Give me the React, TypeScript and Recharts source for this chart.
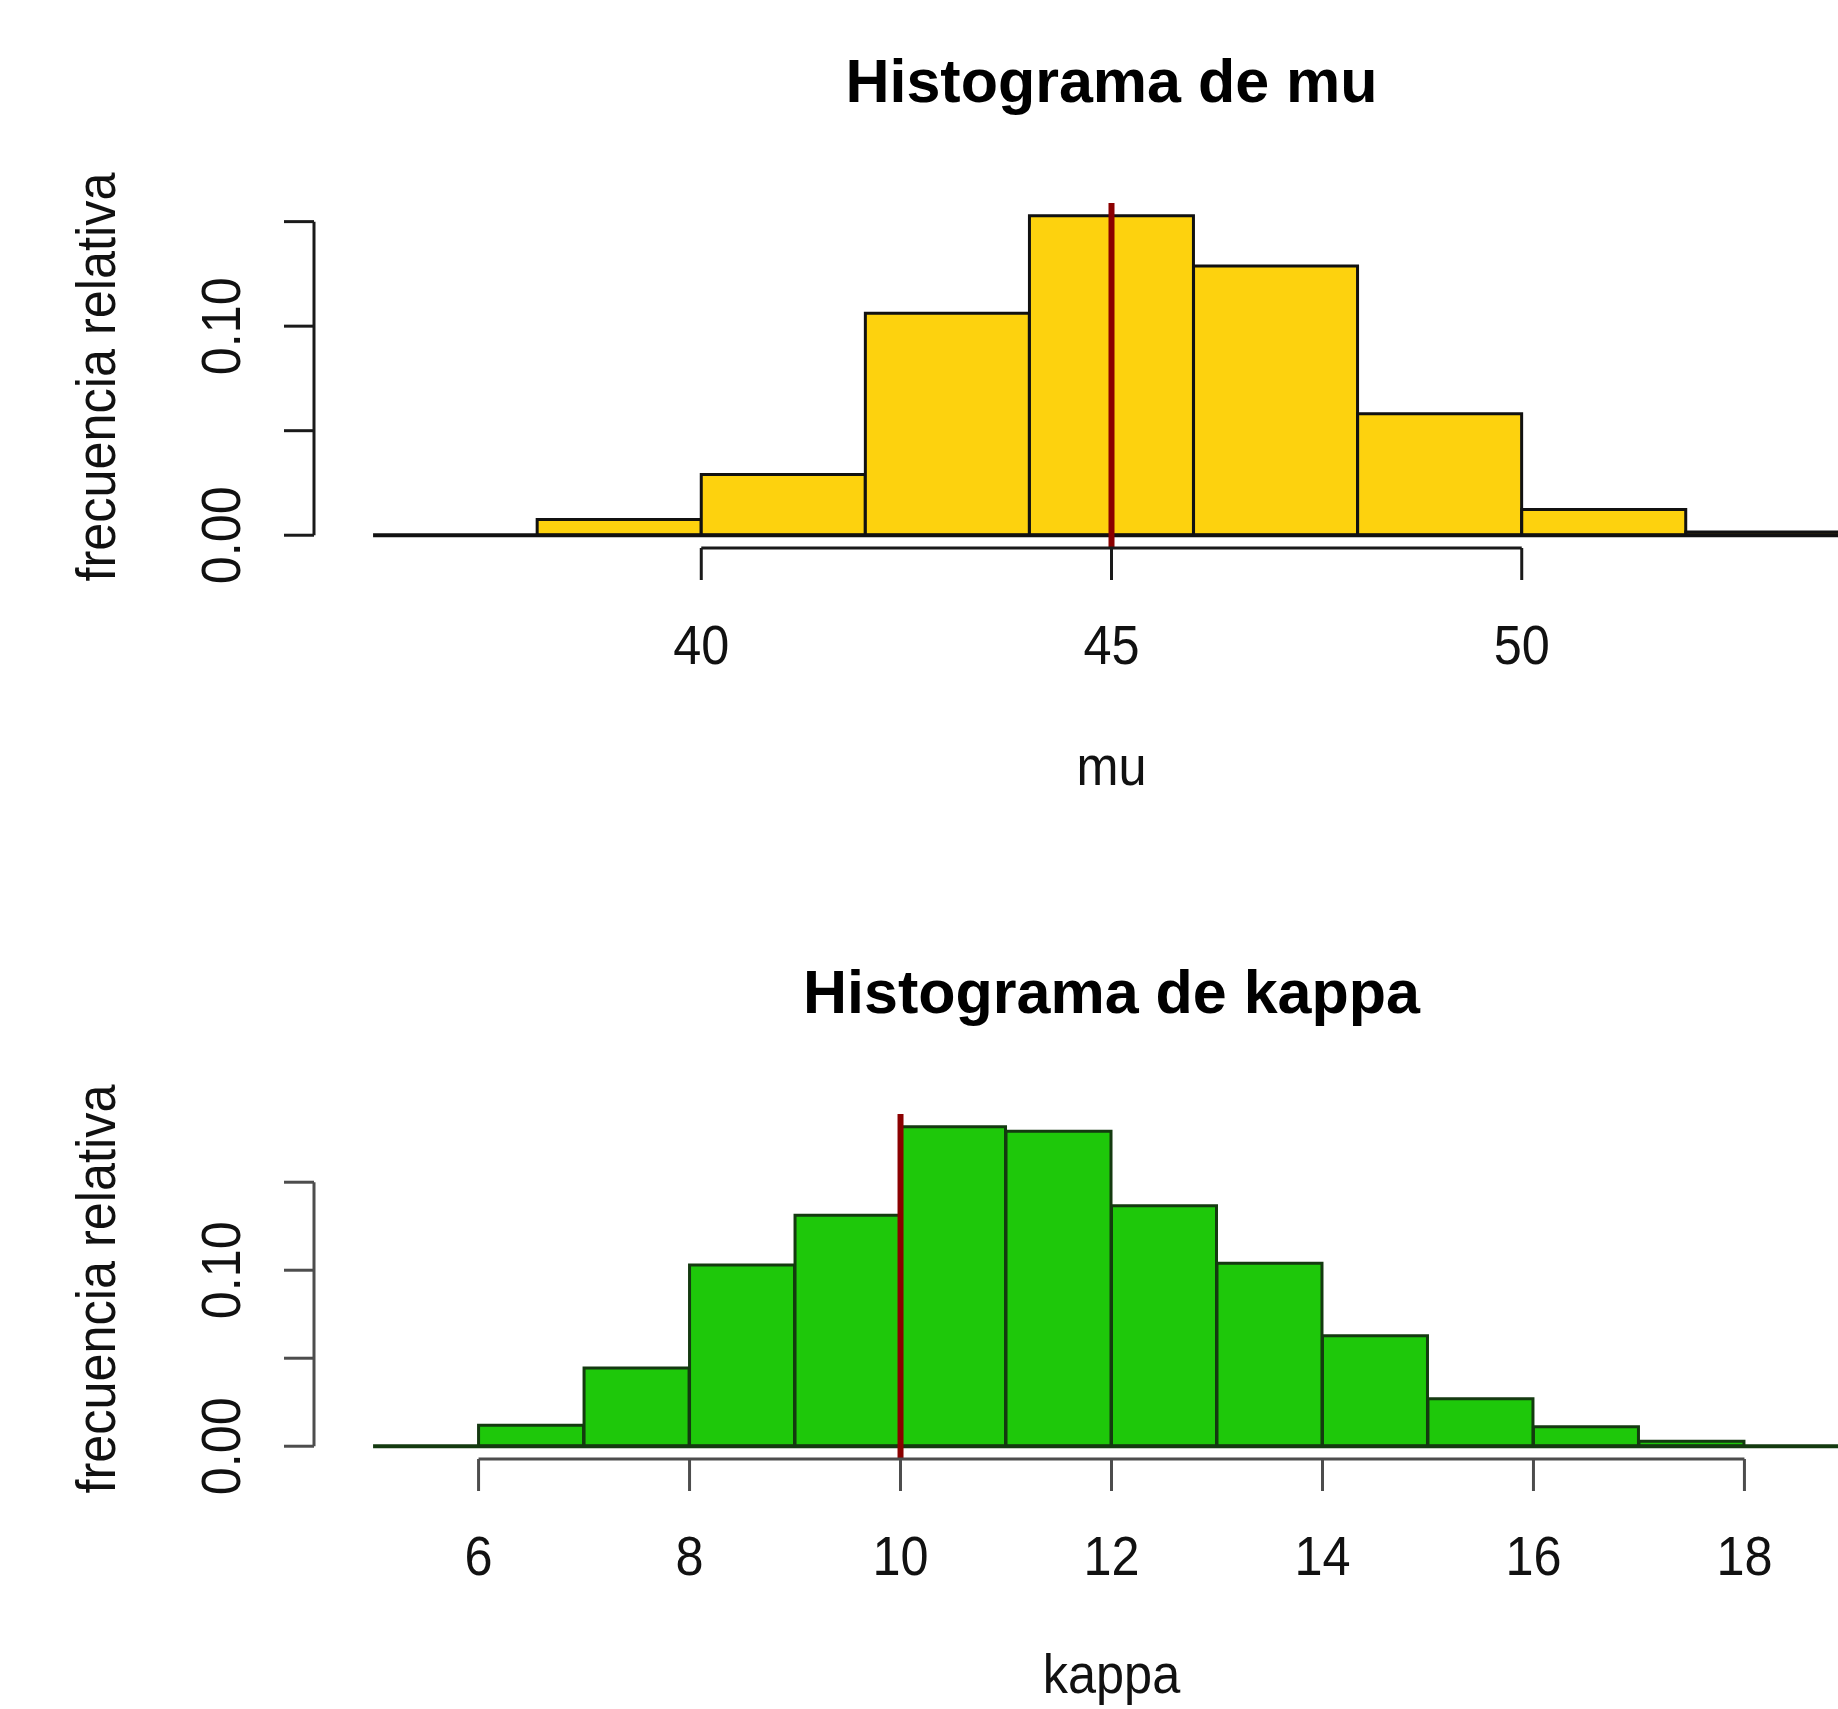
import React from 'react';
import { ComposedChart, Bar, XAxis, YAxis, ReferenceLine } from 'recharts';

// ---- data: histogram of mu ----
const muBreaks = [36, 38, 40, 42, 44, 46, 48, 50, 52, 54];
const muDensity = [0, 0.0075, 0.029, 0.1062, 0.1528, 0.1288, 0.0581, 0.0123, 0.0015];
const muTicks = [40, 45, 50];
const muMean = 45;

// ---- data: histogram of kappa ----
const kappaBreaks = [5, 6, 7, 8, 9, 10, 11, 12, 13, 14, 15, 16, 17, 18, 19];
const kappaDensity = [0, 0.0119, 0.0444, 0.103, 0.1313, 0.1815, 0.179, 0.1366, 0.104, 0.0628, 0.027, 0.011, 0.0028, 0];
const kappaTicks = [6, 8, 10, 12, 14, 16, 18];
const kappaMean = 10;

// ---- shared y axis ----
const yTicks = [0, 0.05, 0.1, 0.15];
const yTickLabels = ['0.00', '', '0.10', ''];

const FONT = "'Liberation Sans', Arial, Helvetica, sans-serif";
const CHART_W = 1930;
const CHART_H = 800;
const MARGIN = { top: 203, right: 21, bottom: 132, left: 214 };

type HistProps = {
  breaks: number[];
  density: number[];
  ticks: number[];
  mean: number;
  fill: string;
  axisColor: string;
  barStroke: string;
};

const XTick = (props: any) => {
  const { x, y, payload } = props;
  return (
    <text
      transform={`translate(${x} ${y + 84}) scale(0.9 1)`}
      textAnchor="middle"
      fontFamily={FONT}
      fontSize={56}
      fill="#111"
    >
      {String(payload.value)}
    </text>
  );
};

const YTick = (props: any) => {
  const { x, y, index } = props;
  const label = yTickLabels[index] ?? '';
  if (!label) return <g />;
  return (
    <text
      transform={`translate(${x - 44} ${y}) rotate(-90) scale(0.9 1)`}
      textAnchor="middle"
      fontFamily={FONT}
      fontSize={56}
      fill="#111"
    >
      {label}
    </text>
  );
};

const Histogram = ({ breaks, density, ticks, mean, fill, axisColor, barStroke }: HistProps) => {
  const data = density.map((d, i) => ({ mid: (breaks[i] + breaks[i + 1]) / 2, density: d }));
  const lo = breaks[0];
  const hi = breaks[breaks.length - 1];
  const xPad = 0.04 * (hi - lo);
  const xDomain: [number, number] = [lo - xPad, hi + xPad];
  const ymax = Math.max(...density);
  const yDomain: [number, number] = [-0.04 * ymax, 1.04 * ymax];
  return (
    <ComposedChart
      width={CHART_W}
      height={CHART_H}
      data={data}
      margin={MARGIN}
      barCategoryGap={0}
      barGap={0}
    >
      <XAxis
        type="number"
        dataKey="mid"
        domain={xDomain}
        allowDataOverflow
        ticks={ticks}
        interval={0}
        axisLine={false}
        tickLine={{ stroke: axisColor, strokeWidth: 3 }}
        tickSize={32}
        tickMargin={0}
        height={120}
        tick={(p: any) => <XTick {...p} />}
      />
      <YAxis
        type="number"
        domain={yDomain}
        allowDataOverflow
        ticks={yTicks}
        interval={0}
        axisLine={false}
        tickLine={{ stroke: axisColor, strokeWidth: 3 }}
        tickSize={30}
        tickMargin={0}
        width={100}
        tick={(p: any) => <YTick {...p} />}
      />
      <Bar dataKey="density" fill={fill} stroke={barStroke} strokeWidth={3} isAnimationActive={false} />
      <ReferenceLine
        segment={[{ x: lo, y: 0 }, { x: hi, y: 0 }]}
        stroke={barStroke}
        strokeWidth={4}
        ifOverflow="visible"
      />
      <ReferenceLine x={mean} stroke="#8B0000" strokeWidth={6} ifOverflow="visible" />
      <ReferenceLine
        segment={[{ x: ticks[0], y: yDomain[0] }, { x: ticks[ticks.length - 1], y: yDomain[0] }]}
        stroke={axisColor}
        strokeWidth={3}
        ifOverflow="visible"
      />
      <ReferenceLine
        segment={[{ x: xDomain[0], y: yTicks[0] }, { x: xDomain[0], y: yTicks[yTicks.length - 1] }]}
        stroke={axisColor}
        strokeWidth={3}
        ifOverflow="visible"
      />
    </ComposedChart>
  );
};

const plainText = (x: number, y: number, s: string, rotate = false) => (
  <text
    transform={`translate(${x} ${y})${rotate ? ' rotate(-90)' : ''} scale(0.9 1)`}
    textAnchor="middle"
    fontFamily={FONT}
    fontSize={56}
    fill="#111"
  >
    {s}
  </text>
);

export default function App() {
  return (
    <div
      style={{
        position: 'absolute',
        left: 0,
        top: 0,
        width: 1838,
        height: 1709,
        overflow: 'hidden',
        background: '#fff',
      }}
    >
      <div style={{ position: 'absolute', left: 0, top: 0 }}>
        <Histogram
          breaks={muBreaks}
          density={muDensity}
          ticks={muTicks}
          mean={muMean}
          fill="#FDD20E"
          axisColor="#1a1a1a"
          barStroke="#111"
        />
      </div>
      <div style={{ position: 'absolute', left: 0, top: 911 }}>
        <Histogram
          breaks={kappaBreaks}
          density={kappaDensity}
          ticks={kappaTicks}
          mean={kappaMean}
          fill="#1EC80A"
          axisColor="#4d4d4d"
          barStroke="#143a10"
        />
      </div>
      <svg
        width={1838}
        height={1709}
        style={{ position: 'absolute', left: 0, top: 0, pointerEvents: 'none' }}
      >
        <text x={1111.5} y={102} textAnchor="middle" fontFamily={FONT} fontWeight="bold" fontSize={61} fill="#000">
          Histograma de mu
        </text>
        <text x={1111.5} y={1013} textAnchor="middle" fontFamily={FONT} fontWeight="bold" fontSize={61} fill="#000">
          Histograma de kappa
        </text>
        {plainText(1111.5, 785, 'mu')}
        {plainText(1111.5, 1693, 'kappa')}
        {plainText(115, 377, 'frecuencia relativa', true)}
        {plainText(115, 1289, 'frecuencia relativa', true)}
      </svg>
    </div>
  );
}
